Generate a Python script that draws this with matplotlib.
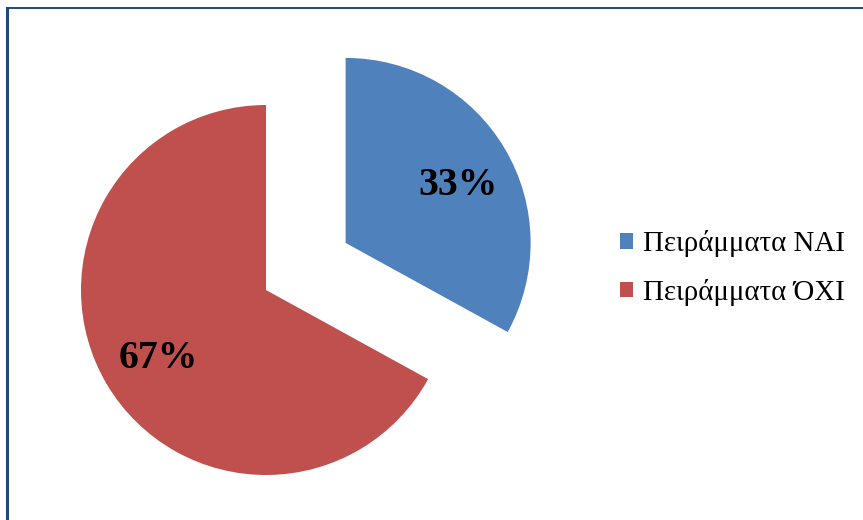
import matplotlib
matplotlib.use("Agg")
import matplotlib.pyplot as plt
import matplotlib.transforms as mtransforms
from matplotlib.patches import Patch
from matplotlib.lines import Line2D

categories = ["Πειράμματα ΝΑΙ", "Πειράμματα ΌΧΙ"]
values = [33, 67]
colors = ["#4F81BD", "#C0504D"]

plt.rcParams['font.family'] = ['Liberation Serif', 'DejaVu Serif']

W, H = 863, 520
R = 185
fig = plt.figure(figsize=(W / 100, H / 100), dpi=100)
ax = fig.add_axes([0, 0, 1, 1])

wedges, texts, autotexts = ax.pie(
    values, colors=colors, startangle=90, counterclock=False,
    explode=[0.5 * R, 0], center=(266, 230), radius=R,
    autopct=lambda p: f"{p:.0f}%", pctdistance=0.68,
    textprops=dict(fontsize=28.5, fontweight='bold', color='black'),
    frame=True,
)
# small visual nudges (pixels) so glyphs sit like the reference
nudges = [(4, -7), (1, -4)]
for t, (dx, dy) in zip(autotexts, nudges):
    t.set_transform(mtransforms.offset_copy(ax.transData, fig=fig, x=dx, y=dy, units='dots'))

ax.set_xlim(0, W)
ax.set_ylim(0, H)
ax.set_aspect('equal')
ax.axis('off')

handles = [Patch(facecolor=c, edgecolor='none') for c in colors]
fig.legend(handles, categories, loc='center left',
           bbox_to_anchor=(620 / W, 1 - 268 / H),
           frameon=False, fontsize=20.8, handlelength=0.45, handleheight=0.45,
           handletextpad=0.35, labelspacing=0.75, borderpad=0, borderaxespad=0)

border = '#1F497D'
fig.add_artist(Line2D([7 / W, 7 / W], [0, 1 - 8 / H], transform=fig.transFigure,
                      color=border, lw=2.2, solid_capstyle='projecting'))
fig.add_artist(Line2D([7 / W, 1], [1 - 8 / H, 1 - 8 / H], transform=fig.transFigure,
                      color=border, lw=1.4))

fig.savefig("out.png", dpi=100)
